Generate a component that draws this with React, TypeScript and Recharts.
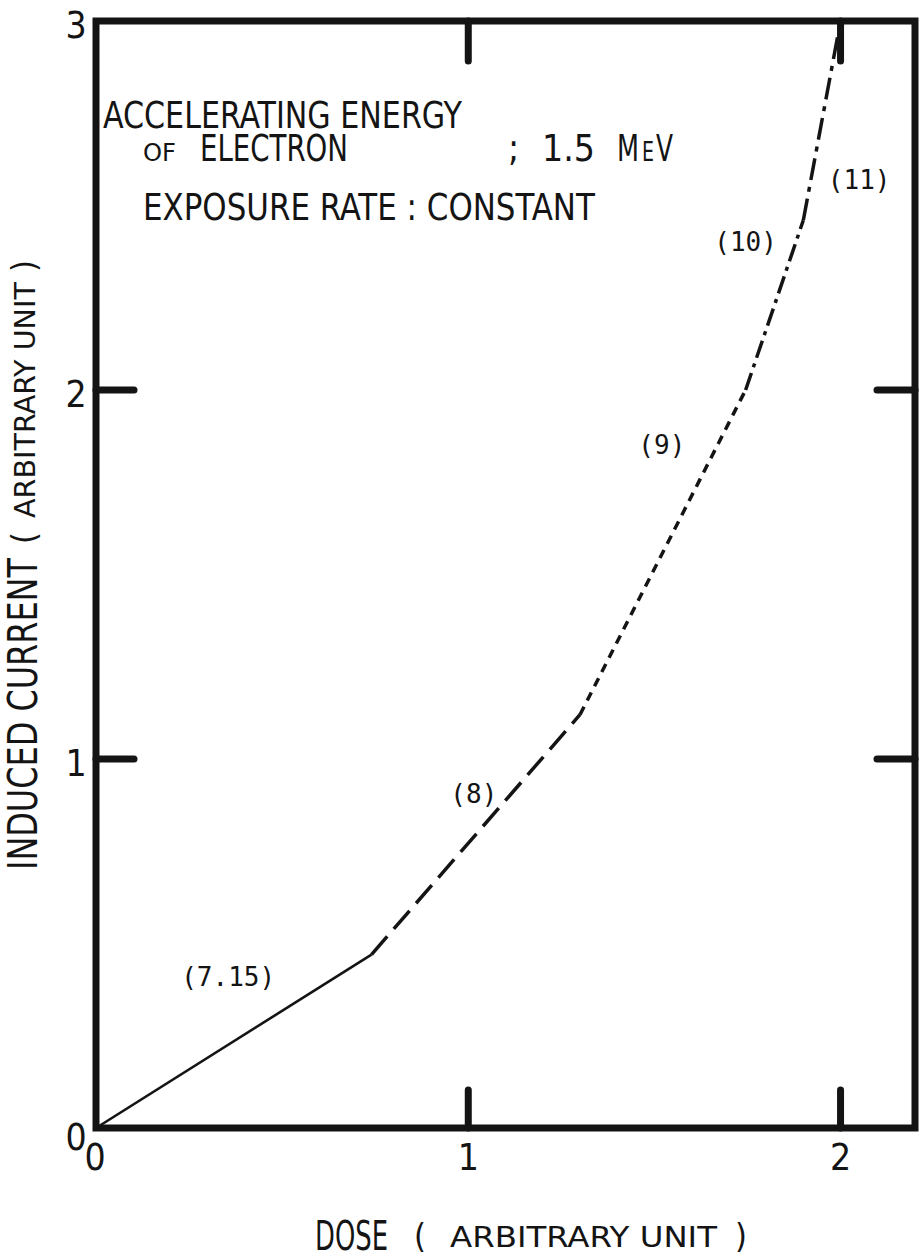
import React from "react";
import {
  ComposedChart,
  Line,
  Scatter,
  XAxis,
  YAxis,
  ReferenceArea,
  Customized,
} from "recharts";

// Induced current vs. dose, piecewise segments labelled by regime number
const SEG_7_15 = [
  { x: 0, y: 0 },
  { x: 0.74, y: 0.47 },
];
const SEG_8 = [
  { x: 0.74, y: 0.47 },
  { x: 1.3, y: 1.12 },
];
const SEG_9 = [
  { x: 1.3, y: 1.12 },
  { x: 1.745, y: 2.0 },
];
const SEG_10 = [
  { x: 1.745, y: 2.0 },
  { x: 1.9, y: 2.46 },
];
const SEG_11 = [
  { x: 1.9, y: 2.46 },
  { x: 2.0, y: 3.0 },
];

const SEG_LABELS = [
  { x: 0.355, y: 0.41, text: "(7.15)" },
  { x: 1.015, y: 0.905, text: "(8)" },
  { x: 1.52, y: 1.85, text: "(9)" },
  { x: 1.745, y: 2.4, text: "(10)" },
  { x: 2.05, y: 2.57, text: "(11)" },
];

const X_TICKS = [0, 1, 2];
const Y_TICKS = [0, 1, 2, 3];
const INNER_TICKS = [1, 2];
const X_MAX = 2.2;
const Y_MAX = 3;

const INK = "#141414";
const NARROW = "'Liberation Sans Narrow', 'DejaVu Sans Condensed', sans-serif";
const MONO = "'DejaVu Sans Mono', monospace";
const TICK_LEN = 38;
const TICK_W = 7;

const isInner = (v: number) => INNER_TICKS.includes(v);

// measure with canvas so squeezed text keeps its real box size
const measureCtx = typeof document !== "undefined" ? document.createElement("canvas").getContext("2d") : null;
const measure = (text: string, size: number) => {
  if (!measureCtx) return text.length * size * 0.5;
  measureCtx.font = `${size}px ${NARROW}`;
  return measureCtx.measureText(text).width;
};

const FitText = ({ x, y, size, width, text }: { x: number; y: number; size: number; width: number; text: string }) => {
  const s = width / measure(text, size);
  return (
    <text transform={`translate(${x},${y}) scale(${s.toFixed(4)},1)`} fontSize={size}>
      {text}
    </text>
  );
};

// bottom axis: inward tick + label under the frame
const BottomTick = (props: any) => {
  const { x, y, payload } = props;
  const v = payload.value;
  return (
    <g>
      {isInner(v) && (
        <line x1={x} y1={y} x2={x} y2={y - TICK_LEN} stroke={INK} strokeWidth={TICK_W} strokeLinecap="round" />
      )}
      <text x={v === 0 ? x - 1 : x} y={y + 42} textAnchor="middle" fontFamily={NARROW} fontSize={37} fill={INK}>
        {v}
      </text>
    </g>
  );
};

const LeftTick = (props: any) => {
  const { x, y, payload } = props;
  const v = payload.value;
  const dy = v === 0 ? 9 : 4;
  return (
    <g>
      {isInner(v) && (
        <line x1={x} y1={y} x2={x + TICK_LEN} y2={y} stroke={INK} strokeWidth={TICK_W} strokeLinecap="round" />
      )}
      <text x={x - 20} y={y + dy + 13} textAnchor="middle" fontFamily={NARROW} fontSize={37} fill={INK}>
        {v}
      </text>
    </g>
  );
};

const TopTick = (props: any) => {
  const { x, y } = props;
  return <line x1={x} y1={y} x2={x} y2={y + TICK_LEN + 2} stroke={INK} strokeWidth={TICK_W} strokeLinecap="round" />;
};

const RightTick = (props: any) => {
  const { x, y } = props;
  return <line x1={x} y1={y} x2={x - TICK_LEN} y2={y} stroke={INK} strokeWidth={TICK_W} strokeLinecap="round" />;
};

const SegLabel = (props: any) => {
  const { cx, cy, payload } = props;
  return (
    <text x={cx} y={cy + 9} textAnchor="middle" fontFamily={MONO} fontSize={26} fill={INK}>
      {payload.text}
    </text>
  );
};

// header note and axis titles
const Annotations = () => (
  <g fill={INK} fontFamily={NARROW}>
    <FitText x={103} y={128} size={38} width={359} text="ACCELERATING ENERGY" />
    <FitText x={143} y={161} size={25} width={33} text="OF" />
    <FitText x={200} y={161} size={37} width={148} text="ELECTRON" />
    <text x={508} y={161} fontSize={37}>;</text>
    <FitText x={542} y={161} size={37} width={53} text="1.5" />
    <FitText x={617} y={161} size={37} width={22} text="M" />
    <FitText x={642} y={161} size={26} width={12} text="E" />
    <FitText x={656} y={161} size={37} width={17} text="V" />
    <FitText x={143} y={220} size={38} width={452} text="EXPOSURE RATE : CONSTANT" />

    <FitText x={315} y={1250} size={41} width={73} text="DOSE" />
    <text x={414} y={1248} fontSize={34}>(</text>
    <FitText x={450} y={1247} size={28} width={267} text="ARBITRARY UNIT" />
    <text x={735} y={1248} fontSize={34}>)</text>

    <g transform="translate(37, 870) rotate(-90)">
      <FitText x={0} y={0} size={41} width={312} text="INDUCED CURRENT" />
      <text x={326} y={-1} fontSize={34}>(</text>
      <FitText x={352} y={-2} size={28} width={236} text="ARBITRARY UNIT" />
      <text x={598} y={-1} fontSize={34}>)</text>
    </g>
  </g>
);

export default function App() {
  return (
    <div style={{ position: "absolute", left: 0, top: 0, width: 921, height: 1259, background: "#fff" }}>
      <ComposedChart width={921} height={1259} margin={{ top: 0, right: 0, bottom: 0, left: 0 }}>
        <XAxis
          xAxisId="bottom"
          type="number"
          dataKey="x"
          domain={[0, X_MAX]}
          ticks={X_TICKS}
          interval={0}
          height={131}
          axisLine={false}
          tickLine={false}
          tickSize={0}
          tickMargin={0}
          tick={<BottomTick />}
        />
        <XAxis
          xAxisId="top"
          orientation="top"
          type="number"
          dataKey="x"
          domain={[0, X_MAX]}
          ticks={INNER_TICKS}
          interval={0}
          height={21}
          axisLine={false}
          tickLine={false}
          tickSize={0}
          tickMargin={0}
          tick={<TopTick />}
        />
        <YAxis
          yAxisId="left"
          type="number"
          domain={[0, Y_MAX]}
          ticks={Y_TICKS}
          interval={0}
          width={96}
          axisLine={false}
          tickLine={false}
          tickSize={0}
          tickMargin={0}
          tick={<LeftTick />}
        />
        <YAxis
          yAxisId="right"
          orientation="right"
          type="number"
          domain={[0, Y_MAX]}
          ticks={INNER_TICKS}
          interval={0}
          width={6}
          axisLine={false}
          tickLine={false}
          tickSize={0}
          tickMargin={0}
          tick={<RightTick />}
        />

        <ReferenceArea
          xAxisId="bottom"
          yAxisId="left"
          x1={0}
          x2={X_MAX}
          y1={0}
          y2={Y_MAX}
          fill="none"
          fillOpacity={0}
          stroke={INK}
          strokeWidth={7}
          ifOverflow="visible"
        />

        {/* invisible copy bound to the top/right axes so their ticks get drawn */}
        <Line xAxisId="top" yAxisId="right" data={SEG_7_15} dataKey="y" stroke="none" dot={false} activeDot={false} legendType="none" isAnimationActive={false} />

        <Line xAxisId="bottom" yAxisId="left" data={SEG_7_15} dataKey="y" type="linear" stroke={INK} strokeWidth={2.6} dot={false} isAnimationActive={false} />
        <Line xAxisId="bottom" yAxisId="left" data={SEG_8} dataKey="y" type="linear" stroke={INK} strokeWidth={3.5} strokeDasharray="24 10" dot={false} isAnimationActive={false} />
        <Line xAxisId="bottom" yAxisId="left" data={SEG_9} dataKey="y" type="linear" stroke={INK} strokeWidth={3.5} strokeDasharray="9 7" dot={false} isAnimationActive={false} />
        <Line xAxisId="bottom" yAxisId="left" data={SEG_10} dataKey="y" type="linear" stroke={INK} strokeWidth={3.5} strokeDasharray="18 6 4 6" dot={false} isAnimationActive={false} />
        <Line xAxisId="bottom" yAxisId="left" data={SEG_11} dataKey="y" type="linear" stroke={INK} strokeWidth={3.5} strokeDasharray="22 7 5 7" dot={false} isAnimationActive={false} />

        <Scatter xAxisId="bottom" yAxisId="left" data={SEG_LABELS} dataKey="y" shape={<SegLabel />} isAnimationActive={false} />

        <Customized component={<Annotations />} />
      </ComposedChart>
    </div>
  );
}
